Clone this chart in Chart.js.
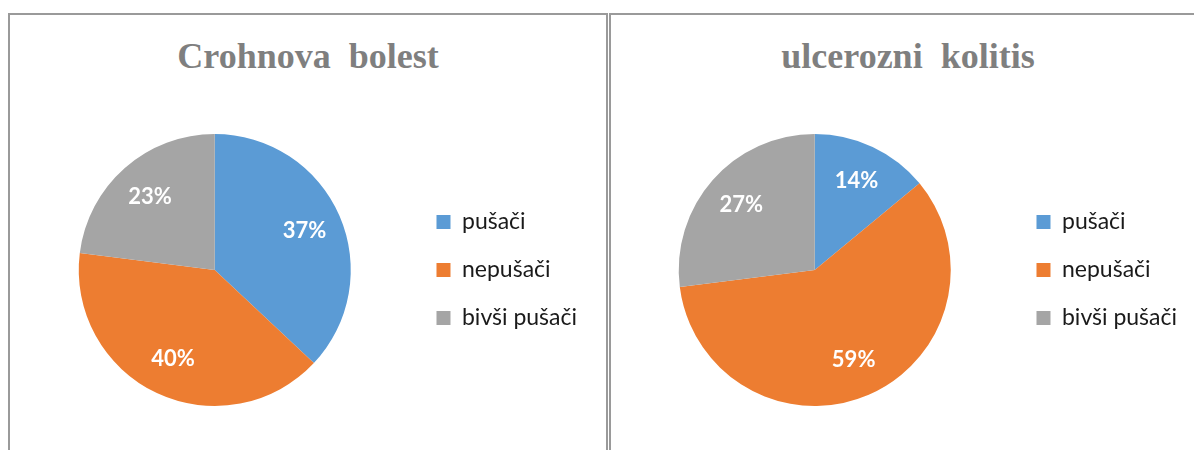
<!DOCTYPE html>
<html>
<head>
<meta charset="utf-8">
<script src="https://cdn.jsdelivr.net/npm/chart.js@4/dist/chart.umd.min.js"></script>
<style>
  html, body { margin:0; padding:0; background:#fff; overflow:hidden; width:1194px; height:450px; }
  .panel { position:absolute; top:13px; height:460px; border:2px solid #9a9a9a; box-sizing:border-box; }
  #p1 { left:8px; width:600px; }
  #p2 { left:609px; width:600px; }
  .wrap { position:absolute; top:15px; width:594px; height:435px; }
  #w1 { left:11px; }
  #w2 { left:611px; }
  .title { position:absolute; top:35px; width:594px; text-align:center; white-space:pre;
           font:bold 36px/43px "Liberation Serif", serif; color:#7f7f7f; }
  #t1 { left:11px; }
  #t2 { left:611px; }
</style>
</head>
<body>
<div class="panel" id="p1"></div>
<div class="panel" id="p2"></div>
<div class="title" id="t1"></div>
<div class="title" id="t2"></div>
<div class="wrap" id="w1"><canvas id="c1"></canvas></div>
<div class="wrap" id="w2"><canvas id="c2"></canvas></div>
<script>
const categories = ['pušači', 'nepušači', 'bivši pušači'];
const crohnValues = [37, 40, 23];
const kolitisValues = [14, 59, 27];
const titles = ['Crohnova  bolest', 'ulcerozni  kolitis'];
const colors = ['#5b9bd5', '#ed7d31', '#a5a5a5'];

document.getElementById('t1').textContent = titles[0];
document.getElementById('t2').textContent = titles[1];

// white % labels inside the slices
const sliceLabels = {
  id: 'sliceLabels',
  afterDatasetsDraw(chart) {
    const ctx = chart.ctx;
    const meta = chart.getDatasetMeta(0);
    const data = chart.data.datasets[0].data;
    ctx.save();
    ctx.fillStyle = '#fff';
    ctx.font = 'bold 22px Lato';
    ctx.textAlign = 'center';
    ctx.textBaseline = 'middle';
    meta.data.forEach((arc, i) => {
      const p = arc.getProps(['x','y','startAngle','endAngle','outerRadius'], true);
      const a = (p.startAngle + p.endAngle) / 2;
      const r = p.outerRadius * 0.72;
      ctx.fillText(data[i] + '%', p.x + Math.cos(a) * r, p.y + Math.sin(a) * r);
    });
    ctx.restore();
  }
};

function makePie(id, values) {
  return new Chart(document.getElementById(id), {
    type: 'pie',
    data: {
      labels: categories,
      datasets: [{ data: values, backgroundColor: colors, borderWidth: 0 }]
    },
    options: {
      responsive: true, maintainAspectRatio: false, animation: false,
      layout: { padding: { left: 7, right: 18, bottom: 44, top: 119 } },
      plugins: {
        legend: {
          position: 'right',
          labels: {
            boxWidth: 14, boxHeight: 14, padding: 25, color: '#1a1a1a',
            font: { family: 'Lato', size: 23 }
          }
        },
        tooltip: { enabled: false }
      }
    },
    plugins: [sliceLabels]
  });
}

makePie('c1', crohnValues);
makePie('c2', kolitisValues);
</script>
</body>
</html>
